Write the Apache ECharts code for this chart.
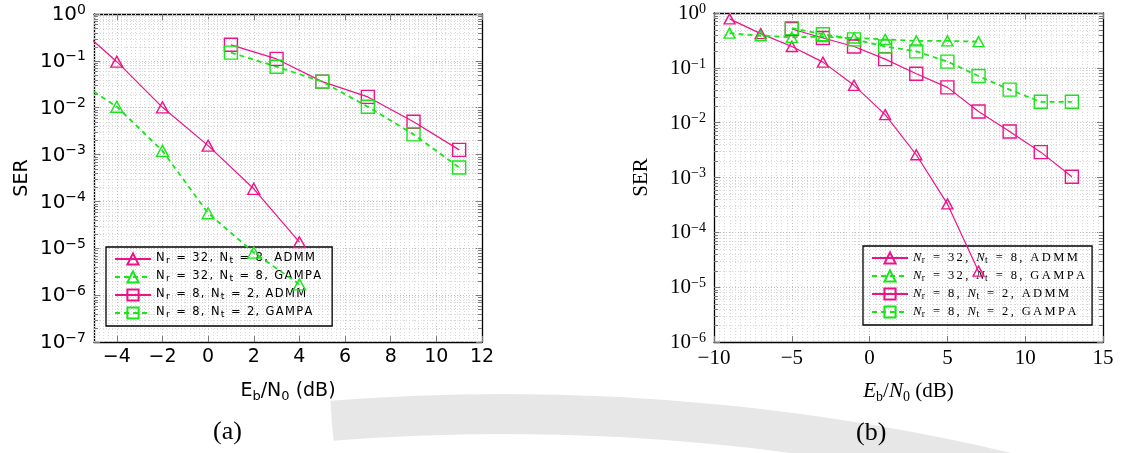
<!DOCTYPE html>
<html>
<head>
<meta charset="utf-8">
<script src="https://cdn.jsdelivr.net/npm/echarts@6/dist/echarts.min.js"></script>
<style>
  html, body { margin: 0; padding: 0; background: #fff; }
  #chart { width: 1124px; height: 453px; }
</style>
</head>
<body>
<div id="chart"></div>
<script>
// ---- Panel (a): SER versus Eb/N0 ----
const snrA32 = [-6, -4, -2, 0, 2, 4];
const serA_admm32 = [0.7, 0.096, 0.0102, 0.00155, 1.86e-4, 1.35e-5];
const serA_gampa32 = [0.046, 0.0105, 0.0012, 5.6e-5, 8.1e-6, 1.7e-6];
const snrA8 = [1, 3, 5, 7, 9, 11];
const serA_admm8 = [0.22, 0.11, 0.036, 0.017, 0.005, 0.00126];
const serA_gampa8 = [0.15, 0.075, 0.036, 0.0105, 0.0027, 5.3e-4];

// ---- Panel (b): SER versus Eb/N0 ----
const snrB32 = [-9, -7, -5, -3, -1, 1, 3, 5, 7];
const serB_admm32 = [0.78, 0.42, 0.245, 0.127, 0.048, 0.014, 0.0026, 3.3e-4, 1.96e-5];
const serB_gampa32 = [0.43, 0.385, 0.36, 0.37, 0.35, 0.33, 0.31, 0.31, 0.30];
const snrB8 = [-5, -3, -1, 1, 3, 5, 7, 9, 11, 13];
const serB_admm8 = [0.51, 0.35, 0.245, 0.144, 0.078, 0.044, 0.016, 0.0069, 0.0029, 0.00103];
const serB_gampa8 = [0.53, 0.41, 0.33, 0.245, 0.20, 0.13, 0.071, 0.040, 0.024, 0.024];

// legend entries: receive antennas, transmit antennas, algorithm
const legendEntries = [
  { name: 'Nr = 32, Nt = 8, ADMM',  nr: 32, nt: 8, alg: 'ADMM' },
  { name: 'Nr = 32, Nt = 8, GAMPA', nr: 32, nt: 8, alg: 'GAMPA' },
  { name: 'Nr = 8, Nt = 2, ADMM',   nr: 8,  nt: 2, alg: 'ADMM' },
  { name: 'Nr = 8, Nt = 2, GAMPA',  nr: 8,  nt: 2, alg: 'GAMPA' }
];

// axis ranges
const xRangeA = [-5, 12];
const yRangeA = [1e-7, 1];
const xRangeB = [-10, 15];
const xIntervalB = 5;
const yRangeB = [1e-6, 1];

const PINK = '#EE1289';
const GREEN = '#19E619';
const TICK = '#7a7a7a';
const GRID_MAJOR = '#c0c0c0';
const GRID_MINOR = '#d9d9d9';
const SANS = 'DejaVu Sans';
const SERIF = 'Liberation Serif';

function minusFmt(v) { return v < 0 ? '\u2212' + (-v) : String(v); }

// minor grid positions
function logMinors(lo, hi) {
  const out = [];
  for (let e = Math.round(Math.log10(lo)); e < Math.round(Math.log10(hi)); e++) {
    for (let m = 2; m <= 9; m++) out.push(m * Math.pow(10, e));
  }
  return out;
}
function linMinors(lo, hi, major, parts) {
  const out = [];
  const n = Math.round((hi - lo) * parts / major);
  for (let i = 0; i <= n; i++) {
    const v = lo + i * major / parts;
    const r = v / major;
    if (Math.abs(r - Math.round(r)) > 1e-6) out.push(+v.toFixed(6));
  }
  return out;
}

function hGridRender(params, api) {
  const cs = params.coordSys;
  const p = api.coord([api.value(0), api.value(1)]);
  const y = Math.round(p[1]) + 0.5;
  const x0 = cs.x, x1 = cs.x + cs.width;
  return {
    type: 'group',
    children: [
      { type: 'line', shape: { x1: x0, y1: y, x2: x1, y2: y },
        style: { stroke: GRID_MINOR, lineWidth: 1, lineDash: [1, 2] } },
      { type: 'line', shape: { x1: x0, y1: y, x2: x0 + 4, y2: y },
        style: { stroke: TICK, lineWidth: 1 } },
      { type: 'line', shape: { x1: x1 - 4, y1: y, x2: x1, y2: y },
        style: { stroke: TICK, lineWidth: 1 } }
    ]
  };
}
function vGridRender(params, api) {
  const cs = params.coordSys;
  const p = api.coord([api.value(0), api.value(1)]);
  const x = Math.round(p[0]) + 0.5;
  return {
    type: 'line',
    shape: { x1: x, y1: cs.y, x2: x, y2: cs.y + cs.height },
    style: { stroke: GRID_MINOR, lineWidth: 1, lineDash: [1, 2] }
  };
}

function spaced(str, style) {
  return Array.from(str).map(ch => '{' + style + '|' + ch + '}').join('');
}
function legendFmtA(name) {
  const e = legendEntries.find(d => d.name === name);
  return spaced('N', 'c') + '{s|r}' + spaced(' = ' + e.nr + ', ', 'c') +
         spaced('N', 'c') + '{s|t}' + spaced(' = ' + e.nt + ', ' + e.alg, 'c');
}
function legendFmtB(name) {
  const e = legendEntries.find(d => d.name === name);
  return '{i|N}{s|r}' + spaced(' = ' + e.nr + ', ', 'c') +
         '{i|N}{s|t}' + spaced(' = ' + e.nt + ', ' + e.alg, 'c');
}

function lineSeries(name, xs, ys, panel, color, dashed, symbol, size) {
  return {
    name: name,
    type: 'line',
    xAxisIndex: panel * 2,
    yAxisIndex: panel * 2,
    data: xs.map((x, i) => [x, ys[i]]),
    symbol: symbol,
    symbolSize: size,
    clip: true,
    z: 4,
    lineStyle: { color: color, width: dashed ? 1.8 : 1.2, type: dashed ? [5, 4] : 'solid' },
    itemStyle: { color: 'rgba(255,255,255,0)', borderColor: color, borderWidth: 1.4 },
    emphasis: { disabled: true }
  };
}

function gridSeries(panel, xr, yr, xMinors, yMinors) {
  return [
    { type: 'custom', name: 'hgrid' + panel, xAxisIndex: panel * 2, yAxisIndex: panel * 2,
      renderItem: hGridRender, data: yMinors.map(v => [xr[0], v]), z: 1, silent: true },
    { type: 'custom', name: 'vgrid' + panel, xAxisIndex: panel * 2, yAxisIndex: panel * 2,
      renderItem: vGridRender, data: xMinors.map(v => [v, yr[1]]), z: 1, silent: true }
  ];
}

function yLabelRich(font, big, small, raise) {
  return {
    b: { fontFamily: font, fontSize: big, color: '#000', verticalAlign: 'bottom' },
    e: { fontFamily: font, fontSize: small, color: '#000', verticalAlign: 'bottom', padding: [0, 0, raise, 0] }
  };
}
function powFmt(v) {
  const e = Math.round(Math.log10(v));
  return '{b|10}{e|' + minusFmt(e) + '}';
}

function frameAxisX(grid, xr, extra, top) {
  return Object.assign({
    type: 'value', gridIndex: grid, min: xr[0], max: xr[1],
    position: top ? 'top' : 'bottom',
    axisLine: { show: true, onZero: false, lineStyle: { color: '#000', width: 1.3 } },
    axisTick: { show: true, inside: true, length: 6, lineStyle: { color: TICK, width: 1 } },
    splitLine: { show: !top, lineStyle: { color: GRID_MAJOR, width: 1, type: [1, 2] } },
    axisLabel: { show: false }
  }, extra);
}
function frameAxisY(grid, yr, extra, right) {
  return Object.assign({
    type: 'log', logBase: 10, gridIndex: grid, min: yr[0], max: yr[1],
    position: right ? 'right' : 'left',
    axisLine: { show: true, onZero: false, lineStyle: { color: '#000', width: 1.3 } },
    axisTick: { show: true, inside: true, length: 6, lineStyle: { color: TICK, width: 1 } },
    splitLine: { show: !right, lineStyle: { color: GRID_MAJOR, width: 1, type: [1, 2] } },
    axisLabel: { show: false }
  }, extra);
}

const names = legendEntries.map(d => d.name);

const option = {
  animation: false,
  backgroundColor: '#fff',
  grid: [
    { left: 94, top: 14, width: 388, height: 328 },
    { left: 714, top: 13, width: 389, height: 329 }
  ],
  xAxis: [
    frameAxisX(0, xRangeA, {
      splitNumber: 8,
      axisLabel: { show: true, showMinLabel: false, margin: 6, fontFamily: SANS, fontSize: 19, color: '#000', formatter: minusFmt },
      name: '{m|E}{s|b}{m|/N}{s|0}{m| (dB)}',
      nameLocation: 'middle', nameGap: 40,
      nameTextStyle: { rich: {
        m: { fontFamily: SANS, fontSize: 19, color: '#000', verticalAlign: 'top' },
        s: { fontFamily: SANS, fontSize: 13, color: '#000', verticalAlign: 'top', padding: [8, 0, 0, 0] }
      } }
    }, false),
    frameAxisX(0, xRangeA, { splitNumber: 8 }, true),
    frameAxisX(1, xRangeB, {
      interval: xIntervalB,
      axisLabel: { show: true, margin: 6, fontFamily: SERIF, fontSize: 21, color: '#000', formatter: minusFmt },
      name: '{i|E}{s|b}{m|/}{i|N}{s|0}{m| (dB)}',
      nameLocation: 'middle', nameGap: 39,
      nameTextStyle: { rich: {
        i: { fontFamily: SERIF, fontStyle: 'italic', fontSize: 21, color: '#000', verticalAlign: 'top' },
        m: { fontFamily: SERIF, fontSize: 21, color: '#000', verticalAlign: 'top' },
        s: { fontFamily: SERIF, fontSize: 14, color: '#000', verticalAlign: 'top', padding: [9, 0, 0, 0] }
      } }
    }, false),
    frameAxisX(1, xRangeB, { interval: xIntervalB }, true)
  ],
  yAxis: [
    frameAxisY(0, yRangeA, {
      axisLabel: { show: true, margin: 8, formatter: powFmt, rich: yLabelRich(SANS, 20, 14, 8) },
      name: 'SER', nameLocation: 'middle', nameGap: 62, nameRotate: 90,
      nameTextStyle: { fontFamily: SANS, fontSize: 19, color: '#000' }
    }, false),
    frameAxisY(0, yRangeA, {}, true),
    frameAxisY(1, yRangeB, {
      axisLabel: { show: true, margin: 8, formatter: powFmt, rich: yLabelRich(SERIF, 21, 14, 8) },
      name: 'SER', nameLocation: 'middle', nameGap: 62, nameRotate: 90,
      nameTextStyle: { fontFamily: SERIF, fontSize: 21, color: '#000' }
    }, false),
    frameAxisY(1, yRangeB, {}, true)
  ],
  legend: [
    {
      data: names, orient: 'vertical', left: 106, top: 247,
      itemWidth: 36, itemHeight: 14, itemGap: 4, padding: [5, 11, 6, 8],
      borderColor: '#000', borderWidth: 1.3, borderRadius: 0, backgroundColor: 'transparent',
      selectedMode: false, formatter: legendFmtA,
      textStyle: { color: '#000', rich: {
        c: { fontFamily: SANS, fontSize: 11.5, color: '#000', verticalAlign: 'top', padding: [0, 1.35, 0, 0] },
        s: { fontFamily: SANS, fontSize: 9.5, color: '#000', verticalAlign: 'top', padding: [4, 1.35, 0, 0] }
      } }
    },
    {
      data: names, orient: 'vertical', left: 863, top: 246,
      itemWidth: 36, itemHeight: 14, itemGap: 4, padding: [5, 7, 6, 8],
      borderColor: '#000', borderWidth: 1.3, borderRadius: 0, backgroundColor: 'transparent',
      selectedMode: false, formatter: legendFmtB,
      textStyle: { color: '#000', rich: {
        i: { fontFamily: SERIF, fontStyle: 'italic', fontSize: 12.5, color: '#000', verticalAlign: 'top', padding: [0, 0.5, 0, 0] },
        c: { fontFamily: SERIF, fontSize: 12.5, color: '#000', verticalAlign: 'top', padding: [0, 2.4, 0, 0] },
        s: { fontFamily: SERIF, fontSize: 9.5, color: '#000', verticalAlign: 'top', padding: [4, 2.4, 0, 0] }
      } }
    }
  ],
  graphic: [
    { type: 'arc', z: -10, silent: true,
      shape: { cx: 504, cy: 2606, r: 2192, startAngle: -Math.PI * 0.525, endAngle: -Math.PI * 0.41 },
      style: { stroke: '#e7e7e7', lineWidth: 40, fill: null } },
    { type: 'text', left: 213, top: 419, z: 10,
      style: { text: '(a)', fontFamily: SERIF, fontSize: 26, fill: '#000' } },
    { type: 'text', left: 856, top: 420, z: 10,
      style: { text: '(b)', fontFamily: SERIF, fontSize: 26, fill: '#000' } }
  ],
  series: [].concat(
    gridSeries(0, xRangeA, yRangeA, linMinors(xRangeA[0], xRangeA[1], 2, 10), logMinors(yRangeA[0], yRangeA[1])),
    gridSeries(1, xRangeB, yRangeB, linMinors(xRangeB[0], xRangeB[1], 5, 15), logMinors(yRangeB[0], yRangeB[1])),
    [
      lineSeries(names[0], snrA32, serA_admm32, 0, PINK, false, 'triangle', [12, 11]),
      lineSeries(names[1], snrA32, serA_gampa32, 0, GREEN, true, 'triangle', [12, 11]),
      lineSeries(names[2], snrA8, serA_admm8, 0, PINK, false, 'rect', 13),
      lineSeries(names[3], snrA8, serA_gampa8, 0, GREEN, true, 'rect', 13),
      lineSeries(names[0], snrB32, serB_admm32, 1, PINK, false, 'triangle', [11, 10]),
      lineSeries(names[1], snrB32, serB_gampa32, 1, GREEN, true, 'triangle', [11, 10]),
      lineSeries(names[2], snrB8, serB_admm8, 1, PINK, false, 'rect', 13),
      lineSeries(names[3], snrB8, serB_gampa8, 1, GREEN, true, 'rect', 13)
    ]
  )
};

const chart = echarts.init(document.getElementById('chart'), null, { renderer: 'canvas' });
chart.setOption(option);
</script>
</body>
</html>
